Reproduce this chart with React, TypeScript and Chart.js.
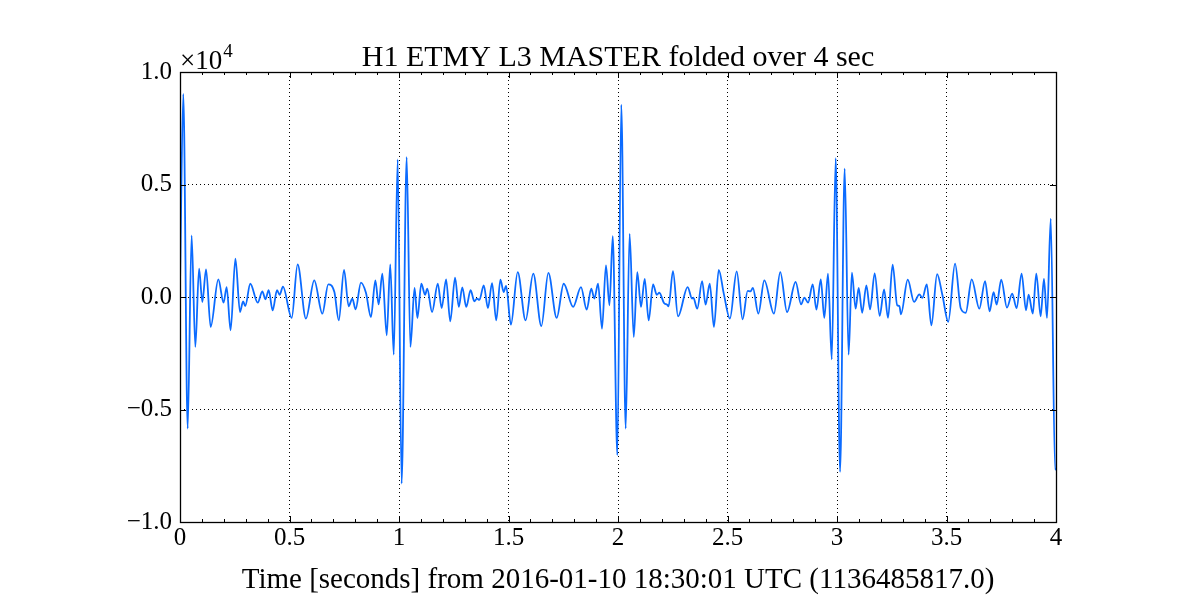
import React, { useEffect, useRef } from "react";
import { Chart, registerables } from "chart.js";

Chart.register(...registerables);

const TITLE = "H1 ETMY L3 MASTER folded over 4 sec";
const X_LABEL = "Time [seconds] from 2016-01-10 18:30:01 UTC (1136485817.0)";
const Y_EXPONENT = "4";

const times: number[] = [
  0.0, 0.015, 0.035, 0.053, 0.07, 0.087, 0.102, 0.119, 0.14, 0.175, 0.199, 0.213, 0.231, 0.253, 0.274, 0.288,
  0.298, 0.321, 0.355, 0.376, 0.39, 0.405, 0.423, 0.443, 0.455, 0.47, 0.51, 0.537, 0.575, 0.613, 0.65, 0.677,
  0.705, 0.725, 0.749, 0.77, 0.787, 0.802, 0.826, 0.849, 0.872, 0.892, 0.907, 0.924, 0.944, 0.96, 0.976, 0.994,
  1.012, 1.035, 1.052, 1.071, 1.084, 1.102, 1.119, 1.129, 1.151, 1.177, 1.195, 1.215, 1.234, 1.256, 1.273, 1.289,
  1.307, 1.327, 1.344, 1.356, 1.367, 1.387, 1.406, 1.425, 1.444, 1.463, 1.478, 1.489, 1.511, 1.542, 1.578, 1.613,
  1.65, 1.682, 1.72, 1.752, 1.795, 1.831, 1.857, 1.878, 1.892, 1.909, 1.927, 1.945, 1.961, 1.976, 1.997, 2.015,
  2.035, 2.053, 2.072, 2.088, 2.105, 2.122, 2.14, 2.16, 2.177, 2.189, 2.21, 2.224, 2.231, 2.251, 2.274, 2.318,
  2.338, 2.344, 2.362, 2.384, 2.4, 2.419, 2.438, 2.46, 2.483, 2.511, 2.542, 2.569, 2.592, 2.605, 2.616, 2.641,
  2.668, 2.712, 2.741, 2.772, 2.811, 2.836, 2.851, 2.868, 2.889, 2.906, 2.926, 2.942, 2.959, 2.976, 2.994, 3.014,
  3.035, 3.053, 3.068, 3.085, 3.099, 3.115, 3.134, 3.151, 3.172, 3.195, 3.215, 3.233, 3.254, 3.275, 3.285, 3.292,
  3.323, 3.352, 3.376, 3.39, 3.41, 3.431, 3.457, 3.481, 3.508, 3.539, 3.565, 3.588, 3.615, 3.65, 3.676, 3.697,
  3.715, 3.729, 3.75, 3.776, 3.8, 3.82, 3.843, 3.863, 3.875, 3.894, 3.91, 3.93, 3.945, 3.959, 3.976, 3.996, 4.0,
];

const values: number[] = [
  500, 9030, -5850, 2740, -2220, 1260, -220, 1230, -1330, 780, -250, 440, -1480, 1700, -670, -190,
  -400, 590, -250, 250, -100, 300, -590, 300, 100, 460, -930, 1450, -960, 740, -740, 560,
  220, -1040, 1210, -410, -70, -550, 640, 190, -890, 740, -330, 1040, -1700, 1450, -2560, 6110,
  -8290, 6220, -2220, 400, -930, 590, 100, 370, -670, 590, -490, 780, -1080, 860, -440, 430,
  -440, 300, -190, -70, -130, 520, -490, 620, -1040, 770, 220, 490, -1230, 1110, -1040, 1040,
  -1290, 1070, -930, 590, -440, 440, -560, 370, -70, 590, -1410, 1410, -370, 2710, -7030, 8550,
  -5850, 2810, -1780, 1110, -440, 810, -1040, 560, 100, 190, -270, -340, -410, 1150, -860, 440,
  -70, -30, -520, 710, -340, 590, -1330, 1210, 150, -960, 1140, -990, 270, 250, 400, -740,
  740, -740, 1110, -670, 670, -330, -30, -250, 560, -560, 780, -930, 1040, -2770, 6170, -7770,
  5700, -2560, 1080, -520, 400, -700, 520, -550, 1050, -840, 340, -930, 1440, -370, -400, -770,
  770, -220, 120, -40, 560, -1260, 1020, 100, -1100, 1480, -500, -700, 780, -520, 710, -640,
  220, -340, 770, -470, 150, -490, 1040, -590, 100, -740, 1040, -860, 810, -930, 3480, -7670, -7600,
];

const X_MIN = 0;
const X_MAX = 4;
const X_STEP = 0.5;
const X_MINOR_STEP = 0.1;
const Y_MIN = -10000;
const Y_MAX = 10000;
const Y_STEP = 5000;

const FONT = "'Liberation Serif', 'DejaVu Serif', serif";

const framePlugin = {
  id: "frame",
  afterDraw(chart: any) {
    const { ctx, chartArea } = chart;
    const xs = chart.scales.x;
    const ys = chart.scales.y;
    const { left, right, top, bottom } = chartArea;
    ctx.save();
    ctx.strokeStyle = "#000";
    ctx.lineWidth = 1;
    ctx.beginPath();
    for (let i = 0; i <= Math.round((X_MAX - X_MIN) / X_MINOR_STEP); i++) {
      const v = X_MIN + i * X_MINOR_STEP;
      const major = i % Math.round(X_STEP / X_MINOR_STEP) === 0;
      const len = major ? 6 : 3;
      const px = Math.round(xs.getPixelForValue(v)) + 0.5;
      ctx.moveTo(px, bottom);
      ctx.lineTo(px, bottom - len);
      ctx.moveTo(px, top);
      ctx.lineTo(px, top + len);
    }
    for (let v = Y_MIN; v <= Y_MAX; v += Y_STEP) {
      const py = Math.round(ys.getPixelForValue(v)) + 0.5;
      ctx.moveTo(left, py);
      ctx.lineTo(left + 6, py);
      ctx.moveTo(right, py);
      ctx.lineTo(right - 6, py);
    }
    ctx.stroke();
    ctx.lineWidth = 1.3;
    ctx.strokeRect(Math.round(left) + 0.5, Math.round(top) + 0.5, Math.round(right - left), Math.round(bottom - top));
    ctx.fillStyle = "#000";
    ctx.textAlign = "center";
    ctx.textBaseline = "alphabetic";
    ctx.font = `30px ${FONT}`;
    ctx.fillText(TITLE, (left + right) / 2, 66);
    ctx.font = `29px ${FONT}`;
    ctx.fillText(X_LABEL, (left + right) / 2, 588);
    ctx.textAlign = "left";
    ctx.font = `27px ${FONT}`;
    ctx.fillText("\u00d710", left, top - 3);
    const w = ctx.measureText("\u00d710").width;
    ctx.font = `19px ${FONT}`;
    ctx.fillText(Y_EXPONENT, left + w + 1, top - 15);
    ctx.restore();
  },
};

export default function App() {
  const ref = useRef<HTMLCanvasElement | null>(null);
  useEffect(() => {
    if (!ref.current) return;
    const data = times.map((t, i) => ({ x: t, y: values[i] }));
    const chart = new Chart(ref.current, {
      type: "line",
      data: {
        datasets: [
          {
            data,
            borderColor: "#0b6bff",
            borderWidth: 1.8,
            pointRadius: 0,
            cubicInterpolationMode: "monotone",
            fill: false,
          },
        ],
      },
      options: {
        animation: false,
        responsive: false,
        devicePixelRatio: 1,
        layout: { padding: { left: 0, right: 144, top: 72, bottom: 0 } },
        plugins: { legend: { display: false }, tooltip: { enabled: false }, title: { display: false } },
        scales: {
          x: {
            type: "linear",
            min: X_MIN,
            max: X_MAX,
            afterFit: (s: any) => {
              s.height = 78;
            },
            ticks: {
              stepSize: X_STEP,
              color: "#000",
              font: { family: FONT, size: 25 },
              padding: 1,
              maxRotation: 0,
              callback: (v: any) => String(Number(v)),
            },
            grid: { color: "#000", lineWidth: 1, drawTicks: false },
            border: { display: false, dash: [1, 3] },
          },
          y: {
            type: "linear",
            min: Y_MIN,
            max: Y_MAX,
            afterFit: (s: any) => {
              s.width = 180;
            },
            ticks: {
              stepSize: Y_STEP,
              color: "#000",
              font: { family: FONT, size: 25 },
              padding: 8,
              callback: (v: any) => (Number(v) / 10000).toFixed(1).replace("-", "\u2212"),
            },
            grid: { color: "#000", lineWidth: 1, drawTicks: false },
            border: { display: false, dash: [1, 3] },
          },
        },
      },
      plugins: [framePlugin],
    });
    return () => chart.destroy();
  }, []);
  return (
    <div style={{ position: "absolute", left: 0, top: 0, width: 1200, height: 600, background: "#fff" }}>
      <canvas ref={ref} width={1200} height={600} style={{ width: 1200, height: 600 }} />
    </div>
  );
}
